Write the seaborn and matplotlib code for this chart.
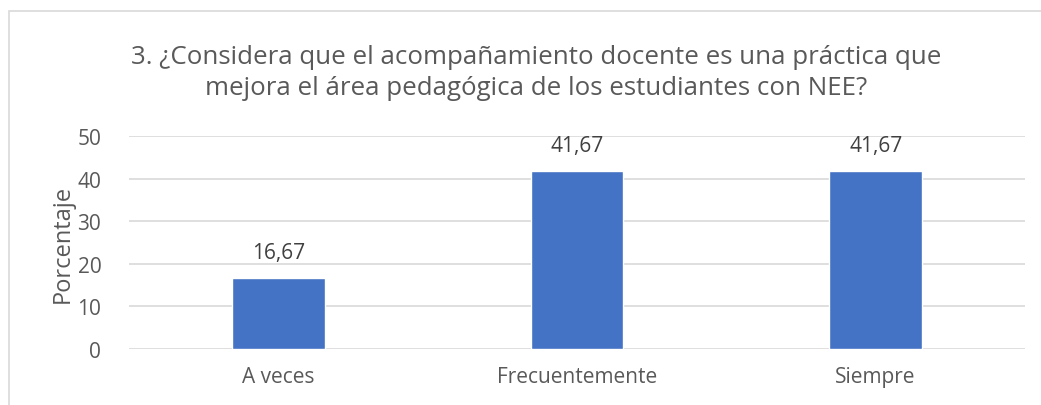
import matplotlib
matplotlib.use("Agg")
import matplotlib.pyplot as plt
import seaborn as sns
import pandas as pd
from matplotlib.patches import Rectangle

categorias = ["A veces", "Frecuentemente", "Siempre"]
porcentajes = [16.67, 41.67, 41.67]
etiquetas = ["16,67", "41,67", "41,67"]
yticks = [0, 10, 20, 30, 40, 50]

sns.set_theme(style="white")
plt.rcParams["font.family"] = ["Open Sans", "DejaVu Sans"]
gris = "#595959"

df = pd.DataFrame({"cat": categorias, "val": porcentajes})

fig = plt.figure(figsize=(10.41, 4.06), dpi=100)
ax = fig.add_axes([0.124, 0.138, 0.8606, 0.5246])
sns.barplot(data=df, x="cat", y="val", color="#4472C4", saturation=1, width=0.31, ax=ax)

ax.set_ylim(0, 50)
ax.set_yticks(yticks)
ax.set_yticklabels([str(t) for t in yticks], fontsize=15, color=gris)
ax.tick_params(axis="x", labelsize=15, labelcolor=gris, pad=12, length=0)
ax.tick_params(axis="y", pad=20, length=0)
ax.grid(axis="y", color="#D9D9D9", linewidth=1.2)
ax.set_axisbelow(True)
for s in ax.spines.values():
    s.set_visible(False)
ax.set_xlabel("")
ax.set_ylabel("Porcentaje", fontsize=17, color=gris, labelpad=2)

for i, (v, t) in enumerate(zip(porcentajes, etiquetas)):
    ax.annotate(t, (i, v), xytext=(0, 11), textcoords="offset points",
                ha="center", va="bottom", fontsize=15, color="#404040")

fig.text(0.515, 0.821, "3. ¿Considera que el acompañamiento docente es una práctica que\n"
         "mejora el área pedagógica de los estudiantes con NEE?",
         ha="center", va="center", fontsize=18.6, color=gris, linespacing=1.3)

fig.patches.append(Rectangle((9 / 1041, -0.1), 1.2, 1 - 12 / 406 + 0.1,
                             transform=fig.transFigure, fill=False,
                             edgecolor="#D9D9D9", linewidth=1.2))

fig.savefig("out.png", dpi=100)
